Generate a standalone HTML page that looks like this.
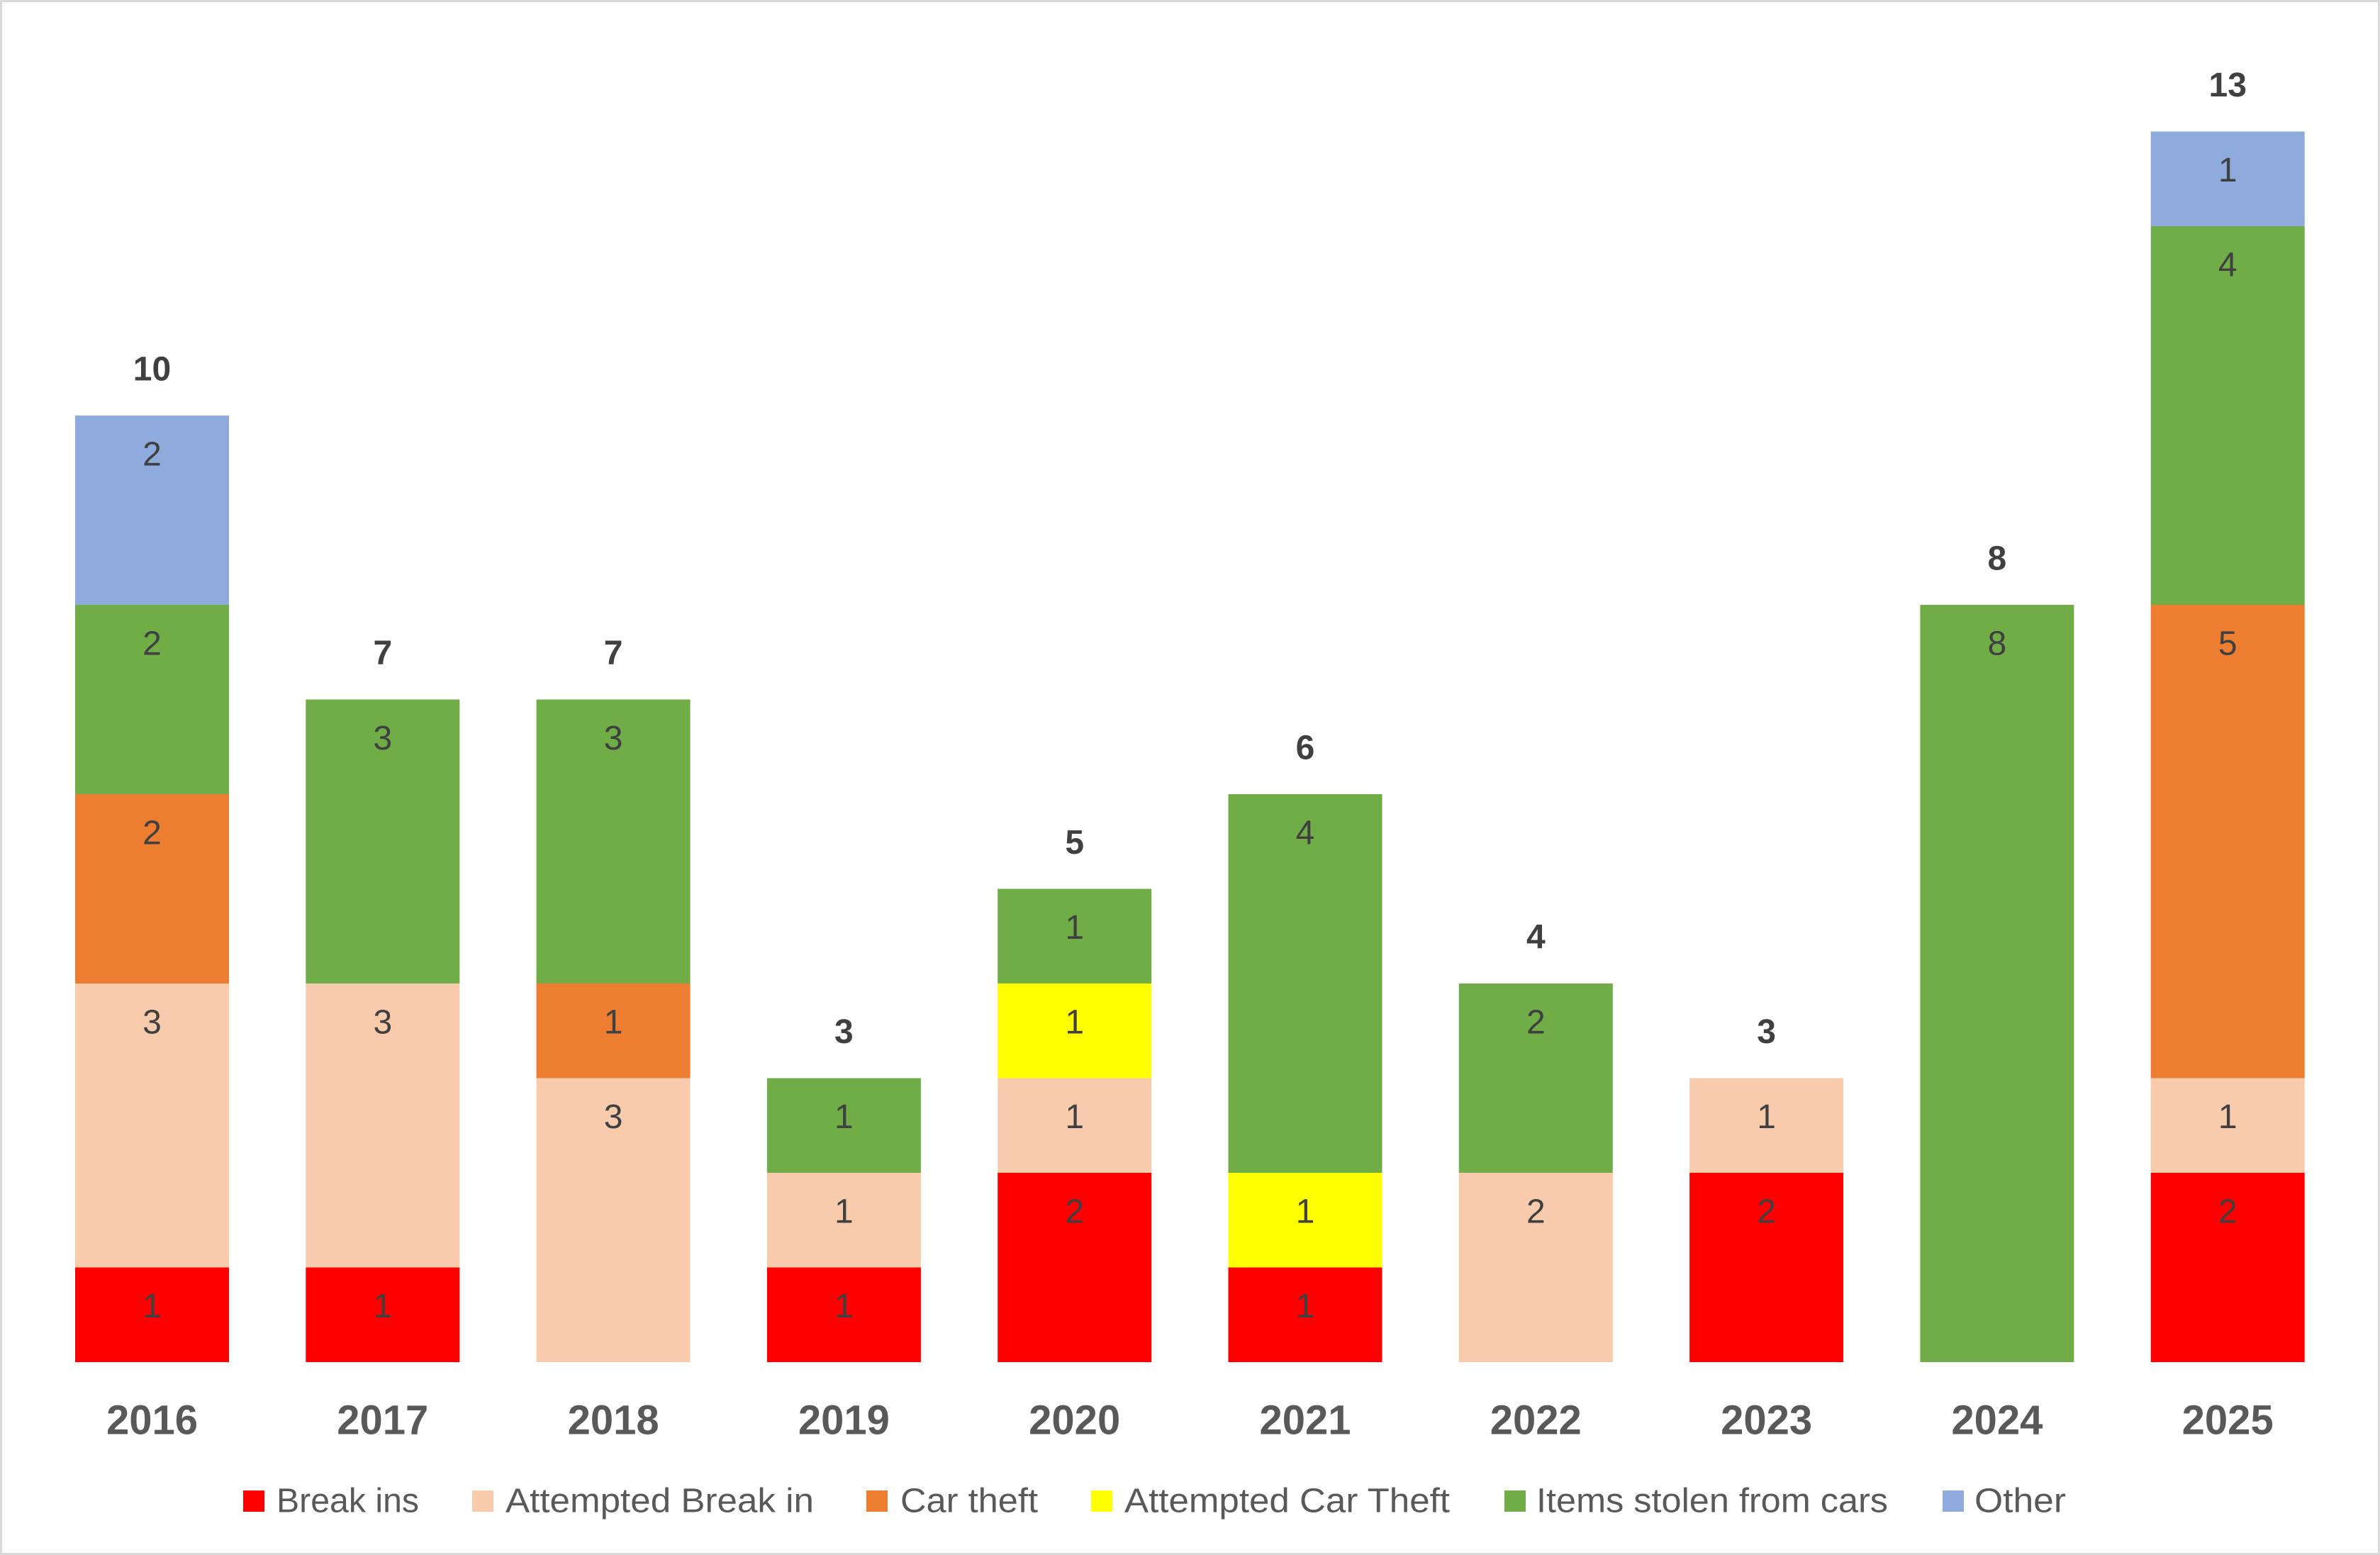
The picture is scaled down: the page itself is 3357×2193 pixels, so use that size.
<!DOCTYPE html>
<html><head><meta charset="utf-8"><style>
html,body{margin:0;padding:0;background:#fff}
svg{display:block}
</style></head><body>
<svg id="c" width="3357" height="2193" xmlns="http://www.w3.org/2000/svg" font-family="'Liberation Sans', sans-serif">
<rect x="1.5" y="1.5" width="3354" height="2190" fill="#fff" stroke="#d9d9d9" stroke-width="3"/>
</svg>
<script>
var svg=document.getElementById('c');var NS='http://www.w3.org/2000/svg';
function el(t,a,txt){var e=document.createElementNS(NS,t);for(var k in a)e.setAttribute(k,a[k]);if(txt!=null)e.textContent=txt;svg.appendChild(e);return e;}
var cols=['#ff0000','#f8cbad','#ed7d31','#ffff00','#70ad47','#8faadc'];
var data=[[1,3,2,0,2,2],[1,3,0,0,3,0],[0,3,1,0,3,0],[1,1,0,0,1,0],[2,1,0,1,1,0],[1,0,0,1,4,0],[0,2,0,0,2,0],[2,1,0,0,0,0],[0,0,0,0,8,0],[2,1,5,0,4,1]];
var base=1921,u=133.5,w=217;
for(var i=0;i<10;i++){var x=106+325.3*i,cx=x+w/2,cum=0;
 for(var s=0;s<6;s++){var v=data[i][s];if(!v)continue;var y1=base-u*(cum+v);
  el('rect',{x:x,y:y1,width:w,height:u*v,fill:cols[s]});
  el('text',{x:cx,y:y1+55,'text-anchor':'middle','dominant-baseline':'central','font-size':48,fill:'#404040'},v);
  cum+=v;}
 el('text',{x:cx,y:base-u*cum-65,'text-anchor':'middle','dominant-baseline':'central','font-size':48,'font-weight':'bold',fill:'#404040'},cum);
 el('text',{x:cx,y:2003,'text-anchor':'middle','dominant-baseline':'central','font-size':58,'font-weight':'bold',fill:'#595959'},2016+i);
}
var leg=[['Break ins',343,390,201],['Attempted Break in',666,713,435],['Car theft',1222,1270,194],['Attempted Car Theft',1539,1586,459],['Items stolen from cars',2122,2167,496],['Other',2740,2785,129]];
leg.forEach(function(l,i){el('rect',{x:l[1],y:2102,width:30,height:30,fill:cols[i]});
 el('text',{x:l[2],y:2117,'dominant-baseline':'central','font-size':48,fill:'#595959',textLength:l[3],lengthAdjust:'spacingAndGlyphs'},l[0]);});
</script>
</body></html>
